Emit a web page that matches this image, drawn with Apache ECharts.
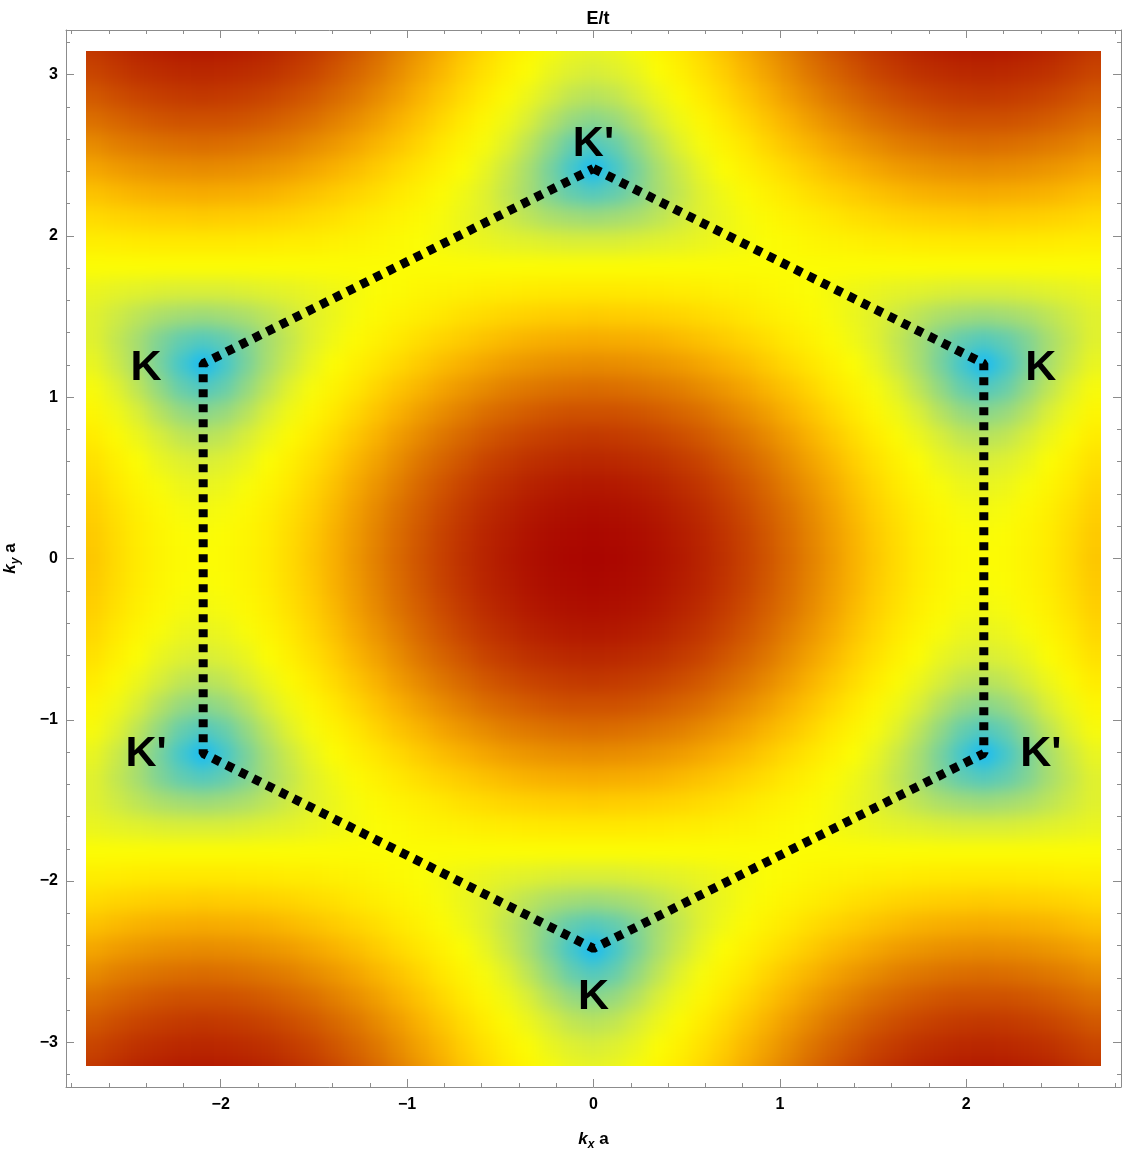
<!DOCTYPE html>
<html>
<head>
<meta charset="utf-8">
<script src="https://cdn.jsdelivr.net/npm/echarts@6/dist/echarts.min.js"></script>
<style>
html,body{margin:0;padding:0;background:#fff;}
#chart{width:1125px;height:1155px;background:#fff;}
</style>
</head>
<body>
<div id="chart"></div>
<script>
// ---- data ----
// cell centres along k_x a (47) and k_y a (43)
const kxVals = [-2.676,-2.560,-2.443,-2.327,-2.211,-2.094,-1.978,-1.862,-1.745,-1.629,-1.513,-1.396,-1.280,-1.164,-1.047,-0.931,-0.814,-0.698,-0.582,-0.465,-0.349,-0.233,-0.116,0,0.116,0.233,0.349,0.465,0.582,0.698,0.814,0.931,1.047,1.164,1.280,1.396,1.513,1.629,1.745,1.862,1.978,2.094,2.211,2.327,2.443,2.560,2.676];
const kyVals = [-3.174,-3.023,-2.872,-2.721,-2.570,-2.418,-2.267,-2.116,-1.965,-1.814,-1.663,-1.512,-1.360,-1.209,-1.058,-0.907,-0.756,-0.605,-0.453,-0.302,-0.151,0,0.151,0.302,0.453,0.605,0.756,0.907,1.058,1.209,1.360,1.512,1.663,1.814,1.965,2.116,2.267,2.418,2.570,2.721,2.872,3.023,3.174];

// E/t along each row (|k_y a| = 0, 0.151, ... 3.174), left to right
const E_ky00 = [1.56,1.39,1.24,1.11,1.03,1.00,1.03,1.11,1.24,1.39,1.56,1.73,1.91,2.08,2.24,2.39,2.52,2.65,2.75,2.84,2.91,2.96,2.99,3.00,2.99,2.96,2.91,2.84,2.75,2.65,2.52,2.39,2.24,2.08,1.91,1.73,1.56,1.39,1.24,1.11,1.03,1.00,1.03,1.11,1.24,1.39,1.56];
const E_ky01 = [1.54,1.38,1.22,1.10,1.01,0.98,1.01,1.10,1.22,1.38,1.54,1.72,1.89,2.06,2.22,2.37,2.51,2.63,2.74,2.82,2.89,2.94,2.97,2.98,2.97,2.94,2.89,2.82,2.74,2.63,2.51,2.37,2.22,2.06,1.89,1.72,1.54,1.38,1.22,1.10,1.01,0.98,1.01,1.10,1.22,1.38,1.54];
const E_ky02 = [1.50,1.33,1.18,1.05,0.96,0.93,0.96,1.05,1.18,1.33,1.50,1.67,1.85,2.02,2.18,2.32,2.46,2.58,2.69,2.77,2.84,2.89,2.92,2.93,2.92,2.89,2.84,2.77,2.69,2.58,2.46,2.32,2.18,2.02,1.85,1.67,1.50,1.33,1.18,1.05,0.96,0.93,0.96,1.05,1.18,1.33,1.50];
const E_ky03 = [1.43,1.26,1.10,0.97,0.88,0.85,0.88,0.97,1.10,1.26,1.43,1.60,1.78,1.94,2.10,2.25,2.38,2.50,2.61,2.69,2.76,2.81,2.84,2.85,2.84,2.81,2.76,2.69,2.61,2.50,2.38,2.25,2.10,1.94,1.78,1.60,1.43,1.26,1.10,0.97,0.88,0.85,0.88,0.97,1.10,1.26,1.43];
const E_ky04 = [1.33,1.16,1.00,0.86,0.77,0.73,0.77,0.86,1.00,1.16,1.33,1.51,1.68,1.84,2.00,2.15,2.28,2.39,2.50,2.58,2.65,2.69,2.72,2.73,2.72,2.69,2.65,2.58,2.50,2.39,2.28,2.15,2.00,1.84,1.68,1.51,1.33,1.16,1.00,0.86,0.77,0.73,0.77,0.86,1.00,1.16,1.33];
const E_ky05 = [1.22,1.04,0.88,0.73,0.63,0.59,0.63,0.73,0.88,1.04,1.22,1.39,1.56,1.72,1.88,2.02,2.15,2.26,2.36,2.44,2.50,2.55,2.58,2.59,2.58,2.55,2.50,2.44,2.36,2.26,2.15,2.02,1.88,1.72,1.56,1.39,1.22,1.04,0.88,0.73,0.63,0.59,0.63,0.73,0.88,1.04,1.22];
const E_ky06 = [1.09,0.91,0.74,0.58,0.46,0.41,0.46,0.58,0.74,0.91,1.09,1.26,1.43,1.58,1.73,1.87,1.99,2.10,2.20,2.27,2.33,2.38,2.41,2.41,2.41,2.38,2.33,2.27,2.20,2.10,1.99,1.87,1.73,1.58,1.43,1.26,1.09,0.91,0.74,0.58,0.46,0.41,0.46,0.58,0.74,0.91,1.09];
const E_ky07 = [0.96,0.79,0.61,0.44,0.29,0.22,0.29,0.44,0.61,0.79,0.96,1.12,1.28,1.44,1.58,1.70,1.82,1.92,2.01,2.09,2.14,2.18,2.21,2.22,2.21,2.18,2.14,2.09,2.01,1.92,1.82,1.70,1.58,1.44,1.28,1.12,0.96,0.79,0.61,0.44,0.29,0.22,0.29,0.44,0.61,0.79,0.96];
const E_ky08 = [0.85,0.68,0.52,0.35,0.17,0.00,0.17,0.35,0.52,0.68,0.85,1.00,1.15,1.29,1.41,1.53,1.64,1.73,1.81,1.88,1.93,1.97,1.99,2.00,1.99,1.97,1.93,1.88,1.81,1.73,1.64,1.53,1.41,1.29,1.15,1.00,0.85,0.68,0.52,0.35,0.17,0.00,0.17,0.35,0.52,0.68,0.85];
const E_ky09 = [0.78,0.64,0.51,0.38,0.28,0.23,0.28,0.38,0.51,0.64,0.78,0.91,1.03,1.15,1.26,1.36,1.45,1.53,1.60,1.66,1.71,1.74,1.76,1.77,1.76,1.74,1.71,1.66,1.60,1.53,1.45,1.36,1.26,1.15,1.03,0.91,0.78,0.64,0.51,0.38,0.28,0.23,0.28,0.38,0.51,0.64,0.78];
const E_ky10 = [0.78,0.69,0.61,0.54,0.50,0.48,0.50,0.54,0.61,0.69,0.78,0.87,0.96,1.04,1.13,1.20,1.27,1.34,1.39,1.44,1.47,1.50,1.51,1.52,1.51,1.50,1.47,1.44,1.39,1.34,1.27,1.20,1.13,1.04,0.96,0.87,0.78,0.69,0.61,0.54,0.50,0.48,0.50,0.54,0.61,0.69,0.78];
const E_ky11 = [0.86,0.82,0.79,0.76,0.74,0.74,0.74,0.76,0.79,0.82,0.86,0.90,0.94,0.99,1.03,1.08,1.12,1.15,1.19,1.21,1.23,1.25,1.26,1.26,1.26,1.25,1.23,1.21,1.19,1.15,1.12,1.08,1.03,0.99,0.94,0.90,0.86,0.82,0.79,0.76,0.74,0.74,0.74,0.76,0.79,0.82,0.86];
const E_ky12 = [1.00,1.00,1.00,1.00,1.00,1.00,1.00,1.00,1.00,1.00,1.00,1.00,1.00,1.00,1.00,1.00,1.00,1.00,1.00,1.00,1.00,1.00,1.00,1.00,1.00,1.00,1.00,1.00,1.00,1.00,1.00,1.00,1.00,1.00,1.00,1.00,1.00,1.00,1.00,1.00,1.00,1.00,1.00,1.00,1.00,1.00,1.00];
const E_ky13 = [1.19,1.21,1.23,1.25,1.26,1.26,1.26,1.25,1.23,1.21,1.19,1.15,1.12,1.08,1.03,0.99,0.94,0.90,0.86,0.82,0.79,0.76,0.74,0.74,0.74,0.76,0.79,0.82,0.86,0.90,0.94,0.99,1.03,1.08,1.12,1.15,1.19,1.21,1.23,1.25,1.26,1.26,1.26,1.25,1.23,1.21,1.19];
const E_ky14 = [1.39,1.44,1.47,1.50,1.51,1.52,1.51,1.50,1.47,1.44,1.39,1.34,1.27,1.20,1.13,1.04,0.96,0.87,0.78,0.69,0.61,0.54,0.50,0.48,0.50,0.54,0.61,0.69,0.78,0.87,0.96,1.04,1.13,1.20,1.27,1.34,1.39,1.44,1.47,1.50,1.51,1.52,1.51,1.50,1.47,1.44,1.39];
const E_ky15 = [1.60,1.66,1.71,1.74,1.76,1.77,1.76,1.74,1.71,1.66,1.60,1.53,1.45,1.36,1.26,1.15,1.03,0.91,0.78,0.64,0.51,0.38,0.28,0.23,0.28,0.38,0.51,0.64,0.78,0.91,1.03,1.15,1.26,1.36,1.45,1.53,1.60,1.66,1.71,1.74,1.76,1.77,1.76,1.74,1.71,1.66,1.60];
const E_ky16 = [1.81,1.88,1.93,1.97,1.99,2.00,1.99,1.97,1.93,1.88,1.81,1.73,1.64,1.53,1.41,1.29,1.15,1.00,0.85,0.68,0.52,0.35,0.17,0.00,0.17,0.35,0.52,0.68,0.85,1.00,1.15,1.29,1.41,1.53,1.64,1.73,1.81,1.88,1.93,1.97,1.99,2.00,1.99,1.97,1.93,1.88,1.81];
const E_ky17 = [2.01,2.09,2.14,2.18,2.21,2.22,2.21,2.18,2.14,2.09,2.01,1.92,1.82,1.70,1.58,1.44,1.28,1.12,0.96,0.79,0.61,0.44,0.29,0.22,0.29,0.44,0.61,0.79,0.96,1.12,1.28,1.44,1.58,1.70,1.82,1.92,2.01,2.09,2.14,2.18,2.21,2.22,2.21,2.18,2.14,2.09,2.01];
const E_ky18 = [2.20,2.27,2.33,2.38,2.41,2.41,2.41,2.38,2.33,2.27,2.20,2.10,1.99,1.87,1.73,1.58,1.43,1.26,1.09,0.91,0.74,0.58,0.46,0.41,0.46,0.58,0.74,0.91,1.09,1.26,1.43,1.58,1.73,1.87,1.99,2.10,2.20,2.27,2.33,2.38,2.41,2.41,2.41,2.38,2.33,2.27,2.20];
const E_ky19 = [2.36,2.44,2.50,2.55,2.58,2.59,2.58,2.55,2.50,2.44,2.36,2.26,2.15,2.02,1.88,1.72,1.56,1.39,1.22,1.04,0.88,0.73,0.63,0.59,0.63,0.73,0.88,1.04,1.22,1.39,1.56,1.72,1.88,2.02,2.15,2.26,2.36,2.44,2.50,2.55,2.58,2.59,2.58,2.55,2.50,2.44,2.36];
const E_ky20 = [2.50,2.58,2.65,2.69,2.72,2.73,2.72,2.69,2.65,2.58,2.50,2.39,2.28,2.15,2.00,1.84,1.68,1.51,1.33,1.16,1.00,0.86,0.77,0.73,0.77,0.86,1.00,1.16,1.33,1.51,1.68,1.84,2.00,2.15,2.28,2.39,2.50,2.58,2.65,2.69,2.72,2.73,2.72,2.69,2.65,2.58,2.50];
const E_ky21 = [2.61,2.69,2.76,2.81,2.84,2.85,2.84,2.81,2.76,2.69,2.61,2.50,2.38,2.25,2.10,1.94,1.78,1.60,1.43,1.26,1.10,0.97,0.88,0.85,0.88,0.97,1.10,1.26,1.43,1.60,1.78,1.94,2.10,2.25,2.38,2.50,2.61,2.69,2.76,2.81,2.84,2.85,2.84,2.81,2.76,2.69,2.61];

// rows in the order of kyVals (bottom to top); the picture is mirror-symmetric in k_y
const eRows = [E_ky21,E_ky20,E_ky19,E_ky18,E_ky17,E_ky16,E_ky15,E_ky14,E_ky13,E_ky12,E_ky11,E_ky10,E_ky09,E_ky08,E_ky07,E_ky06,E_ky05,E_ky04,E_ky03,E_ky02,E_ky01,
               E_ky00,
               E_ky01,E_ky02,E_ky03,E_ky04,E_ky05,E_ky06,E_ky07,E_ky08,E_ky09,E_ky10,E_ky11,E_ky12,E_ky13,E_ky14,E_ky15,E_ky16,E_ky17,E_ky18,E_ky19,E_ky20,E_ky21];

// dotted Brillouin-zone hexagon
const hexKx = [0, 2.094, 2.094, 0, -2.094, -2.094, 0];
const hexKy = [2.418, 1.209, -1.209, -2.418, -1.209, 1.209, 2.418];

// valley labels
const labelText = ["K'", "K", "K", "K'", "K'", "K"];
const labelKx = [0, -2.40, 2.40, -2.40, 2.40, 0];
const labelKy = [2.58, 1.19, 1.19, -1.20, -1.20, -2.71];

// ticks
const xMajorTicks = [-2, -1, 0, 1, 2];
const xMinorTicks = [-2.8,-2.6,-2.4,-2.2,-2,-1.8,-1.6,-1.4,-1.2,-1,-0.8,-0.6,-0.4,-0.2,0,0.2,0.4,0.6,0.8,1,1.2,1.4,1.6,1.8,2,2.2,2.4,2.6,2.8];
const yMajorTicks = [-3, -2, -1, 0, 1, 2, 3];
const yMinorTicks = [-3.2,-3,-2.8,-2.6,-2.4,-2.2,-2,-1.8,-1.6,-1.4,-1.2,-1,-0.8,-0.6,-0.4,-0.2,0,0.2,0.4,0.6,0.8,1,1.2,1.4,1.6,1.8,2,2.2,2.4,2.6,2.8,3,3.2];

// ---- layout / style constants ----
const PLOT_KX = 2.7207, PLOT_KY = 3.1416;   // extent of the density image
const AX_X = 2.830, AX_Y = 3.277;           // frame range (with padding)
const CELL_DX = 0.11636, CELL_DY = 0.15115;
const EDGE_EXT = 0.3;
const FONT = "'Liberation Sans', Arial, Helvetica, sans-serif";
const FRAME = '#8c8c8c';
const colorStops = ['#16bcf6','#5acab8','#a4dc74','#dcf034','#fcfc04','#ffea00','#ffcf00','#f8ae00','#e88c00','#d86800','#c84400','#b82400','#aa0600'];

const cells = [];
for (let r = 0; r < kyVals.length; r++) {
  for (let c = 0; c < kxVals.length; c++) {
    cells.push([kxVals[c], kyVals[r], eRows[r][c]]);
  }
}
const hexData = hexKx.map((x, i) => [x, hexKy[i]]);
const labelData = labelKx.map((x, i) => [x, labelKy[i]]);

function renderCell(params, api) {
  const x = api.value(0), y = api.value(1);
  let x0 = x - CELL_DX / 2, x1 = x + CELL_DX / 2, y0 = y - CELL_DY / 2, y1 = y + CELL_DY / 2;
  if (x === kxVals[0]) x0 -= EDGE_EXT;
  if (x === kxVals[kxVals.length - 1]) x1 += EDGE_EXT;
  if (y === kyVals[0]) y0 -= EDGE_EXT;
  if (y === kyVals[kyVals.length - 1]) y1 += EDGE_EXT;
  const pA = api.coord([x0, y1]);
  const pB = api.coord([x1, y0]);
  return {
    type: 'rect',
    shape: { x: pA[0] - 0.5, y: pA[1] - 0.5, width: pB[0] - pA[0] + 1, height: pB[1] - pA[1] + 1 },
    style: { fill: api.visual('color') }
  };
}

function renderLabel(params, api) {
  const p = api.coord([api.value(0), api.value(1)]);
  return {
    type: 'text', x: p[0], y: p[1] + 2,
    style: {
      text: labelText[params.dataIndex], fill: '#000', opacity: 1,
      font: 'bold 43px ' + FONT,
      align: 'center', verticalAlign: 'middle',
      textAlign: 'center', textVerticalAlign: 'middle'
    }
  };
}

const fmt = v => (v < 0 ? '\u2212' + Math.abs(v) : String(v));
const lineStyle = { color: FRAME, width: 1 };
const nameRich = {
  k: { fontSize: 17, fontStyle: 'italic', fontWeight: 'bold', fontFamily: FONT, color: '#000', lineHeight: 24, verticalAlign: 'middle' },
  s: { fontSize: 12, fontStyle: 'italic', fontWeight: 'bold', fontFamily: FONT, color: '#000', lineHeight: 24, verticalAlign: 'bottom' },
  a: { fontSize: 17, fontWeight: 'bold', fontFamily: FONT, color: '#000', lineHeight: 24, verticalAlign: 'middle' }
};

function axis(kind, pos, range, ticks, len, showLine, labels, extra) {
  return Object.assign({
    type: 'value', position: pos, min: -range, max: range, zlevel: 1,
    axisLine: { show: showLine, onZero: false, lineStyle },
    axisTick: { show: true, inside: true, length: len, customValues: ticks, lineStyle },
    axisLabel: labels ? { show: true, customValues: labels, formatter: fmt, fontSize: 16, fontWeight: 'bold', color: '#000', fontFamily: FONT, margin: kind === 'x' ? 10 : 8 } : { show: false },
    splitLine: { show: false }
  }, extra || {});
}

const chart = echarts.init(document.getElementById('chart'), null, { renderer: 'canvas' });
chart.setOption({
  animation: false,
  title: {
    text: 'E/t', left: 593, top: 5, textAlign: 'center', zlevel: 1,
    textStyle: { fontSize: 18, fontWeight: 'bold', color: '#000', fontFamily: FONT }
  },
  grid: { left: 66, right: 4, top: 30, bottom: 68, containLabel: false, outerBoundsMode: 'none' },
  xAxis: [
    axis('x', 'bottom', AX_X, xMajorTicks, 8, true, xMajorTicks, {
      name: '{k|k}{s|x}{a| a}', nameLocation: 'middle', nameGap: 40,
      nameTextStyle: { rich: nameRich }
    }),
    axis('x', 'bottom', AX_X, xMinorTicks, 4, false, null),
    axis('x', 'top', AX_X, xMajorTicks, 8, true, null),
    axis('x', 'top', AX_X, xMinorTicks, 4, false, null)
  ],
  yAxis: [
    axis('y', 'left', AX_Y, yMajorTicks, 8, true, yMajorTicks, {
      name: '{k|k}{s|y}{a| a}', nameLocation: 'middle', nameGap: 44,
      nameTextStyle: { rich: nameRich }
    }),
    axis('y', 'left', AX_Y, yMinorTicks, 4, false, null),
    axis('y', 'right', AX_Y, yMajorTicks, 8, true, null),
    axis('y', 'right', AX_Y, yMinorTicks, 4, false, null)
  ],
  visualMap: {
    show: false, type: 'continuous', seriesIndex: 0, dimension: 2, min: 0, max: 3,
    inRange: { color: colorStops }
  },
  series: [
    {
      type: 'custom', name: 'E/t', zlevel: 0, xAxisIndex: 0, yAxisIndex: 0,
      encode: { x: 0, y: 1 }, renderItem: renderCell, data: cells, silent: true
    },
    {
      type: 'line', zlevel: 1, z: 5, xAxisIndex: 0, yAxisIndex: 0, data: hexData,
      symbol: 'none', silent: true,
      lineStyle: { color: '#000', width: 9, type: [8, 7], cap: 'butt' }
    },
    {
      type: 'custom', zlevel: 1, z: 6, xAxisIndex: 0, yAxisIndex: 0, data: labelData,
      encode: { x: 0, y: 1 }, renderItem: renderLabel, silent: true
    }
  ]
});

// smooth the density cells and trim them to the image extent
(function styleDensityLayer() {
  try {
    const tl = chart.convertToPixel({ gridIndex: 0 }, [-PLOT_KX, PLOT_KY]);
    const br = chart.convertToPixel({ gridIndex: 0 }, [PLOT_KX, -PLOT_KY]);
    const W = chart.getWidth(), H = chart.getHeight();
    let cv = null;
    try { cv = chart.getZr().painter.getLayer(0).dom; } catch (e) { cv = null; }
    if (!cv) cv = document.querySelector('#chart canvas');
    cv.style.filter = 'blur(8px)';
    cv.style.clipPath = 'inset(' + tl[1].toFixed(1) + 'px ' + (W - br[0]).toFixed(1) + 'px ' + (H - br[1]).toFixed(1) + 'px ' + tl[0].toFixed(1) + 'px)';
  } catch (e) { console.error(e); }
})();
</script>
</body>
</html>
